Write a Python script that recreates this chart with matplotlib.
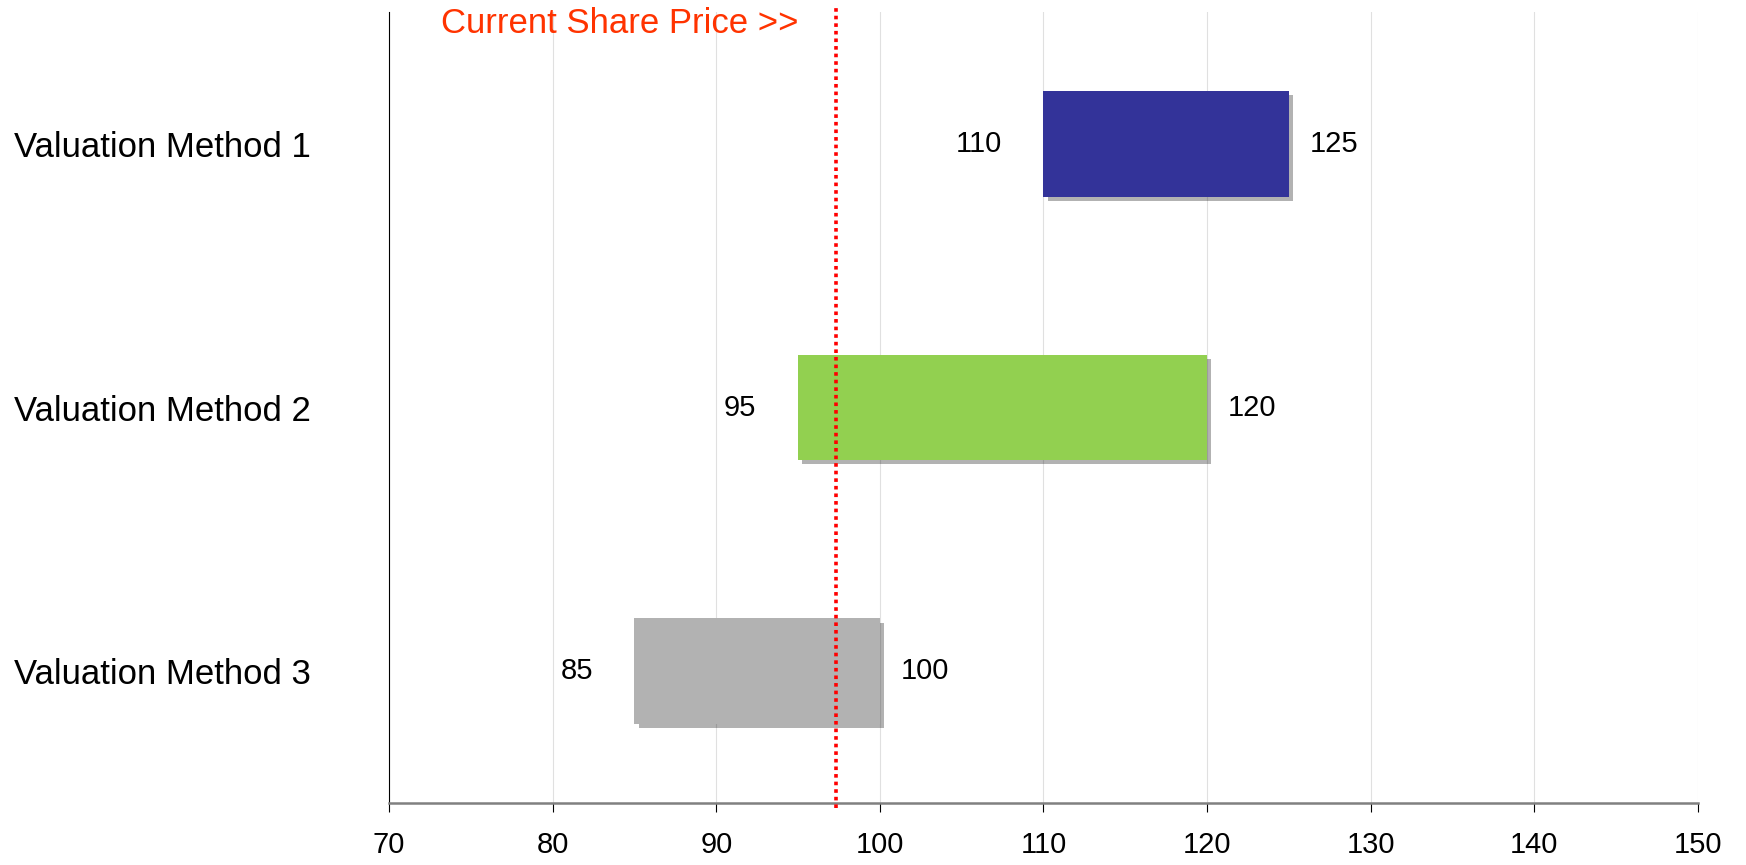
import numpy as np
import matplotlib
matplotlib.use('Agg')
import matplotlib.pyplot as plt
import matplotlib.patheffects as pe
from matplotlib import font_manager

# --- dados ---
methods = ['Valuation Method 1', 'Valuation Method 2', 'Valuation Method 3']
low_vals = [110, 95, 85]
high_vals = [125, 120, 100]
bar_colors = ['#333399', '#92D050', '#B2B2B2']
current_price = 97.3
price_label = 'Current Share Price >>'
x_ticks = [70, 80, 90, 100, 110, 120, 130, 140, 150]

plt.rcParams['font.family'] = ['Liberation Sans', 'DejaVu Sans']

# fonte estreita para o título, se existir
installed = {f.name for f in font_manager.fontManager.ttflist}
if 'Liberation Sans Narrow' in installed:
    title_font, title_size = 'Liberation Sans Narrow', 30
elif 'Arial Narrow' in installed:
    title_font, title_size = 'Arial Narrow', 30
else:
    title_font, title_size = 'Liberation Sans', 25

fig = plt.figure(figsize=(17.46, 8.65), dpi=100)
ax = fig.add_axes([0.2228, 0.0717, 0.7497, 0.9144])

y = np.arange(len(methods))
widths = np.array(high_vals) - np.array(low_vals)
shadow = [pe.SimplePatchShadow(offset=(3, -3), shadow_rgbFace='k', alpha=0.3), pe.Normal()]
bars = ax.barh(y, widths, left=low_vals, height=0.4, color=bar_colors, zorder=3)
for b in bars:
    b.set_path_effects(shadow)

# rótulos dos valores
for yi, lo, hi in zip(y, low_vals, high_vals):
    ax.annotate(str(lo), xy=(lo, yi), xytext=(-30, 0), textcoords='offset points',
                ha='right', va='center', fontsize=21)
    ax.annotate(str(hi), xy=(hi, yi), xytext=(15, 0), textcoords='offset points',
                ha='left', va='center', fontsize=21)

# linha do preço atual
ax.axvline(current_price, ymin=-0.006, ymax=1.006, color='#FF0000', lw=2.6,
           linestyle=(0, (1, 1.1)), zorder=4, clip_on=False)
ax.annotate(price_label, xy=(current_price, 1), xycoords=('data', 'axes fraction'),
            xytext=(-27, -8), textcoords='offset points', ha='right', va='center',
            fontsize=title_size, color='#FF3300', family=title_font,
            annotation_clip=False)

ax.set_xlim(70, 150)
ax.set_ylim(2.5, -0.5)
ax.set_xticks(x_ticks)
ax.set_yticks(y)
ax.set_yticklabels(methods, fontsize=25)
ax.tick_params(axis='y', length=0, pad=56)
ax.tick_params(axis='x', direction='out', length=6.5, width=0.8, color='black',
               labelsize=21, pad=14)

ax.grid(axis='x', color='#e0e0e0', lw=0.8, zorder=0)
for s in ['top', 'right']:
    ax.spines[s].set_visible(False)
ax.spines['left'].set_color('black')
ax.spines['left'].set_linewidth(0.8)
ax.spines['bottom'].set_color('#808080')
ax.spines['bottom'].set_linewidth(1.8)

plt.savefig('out.png', dpi=100)
